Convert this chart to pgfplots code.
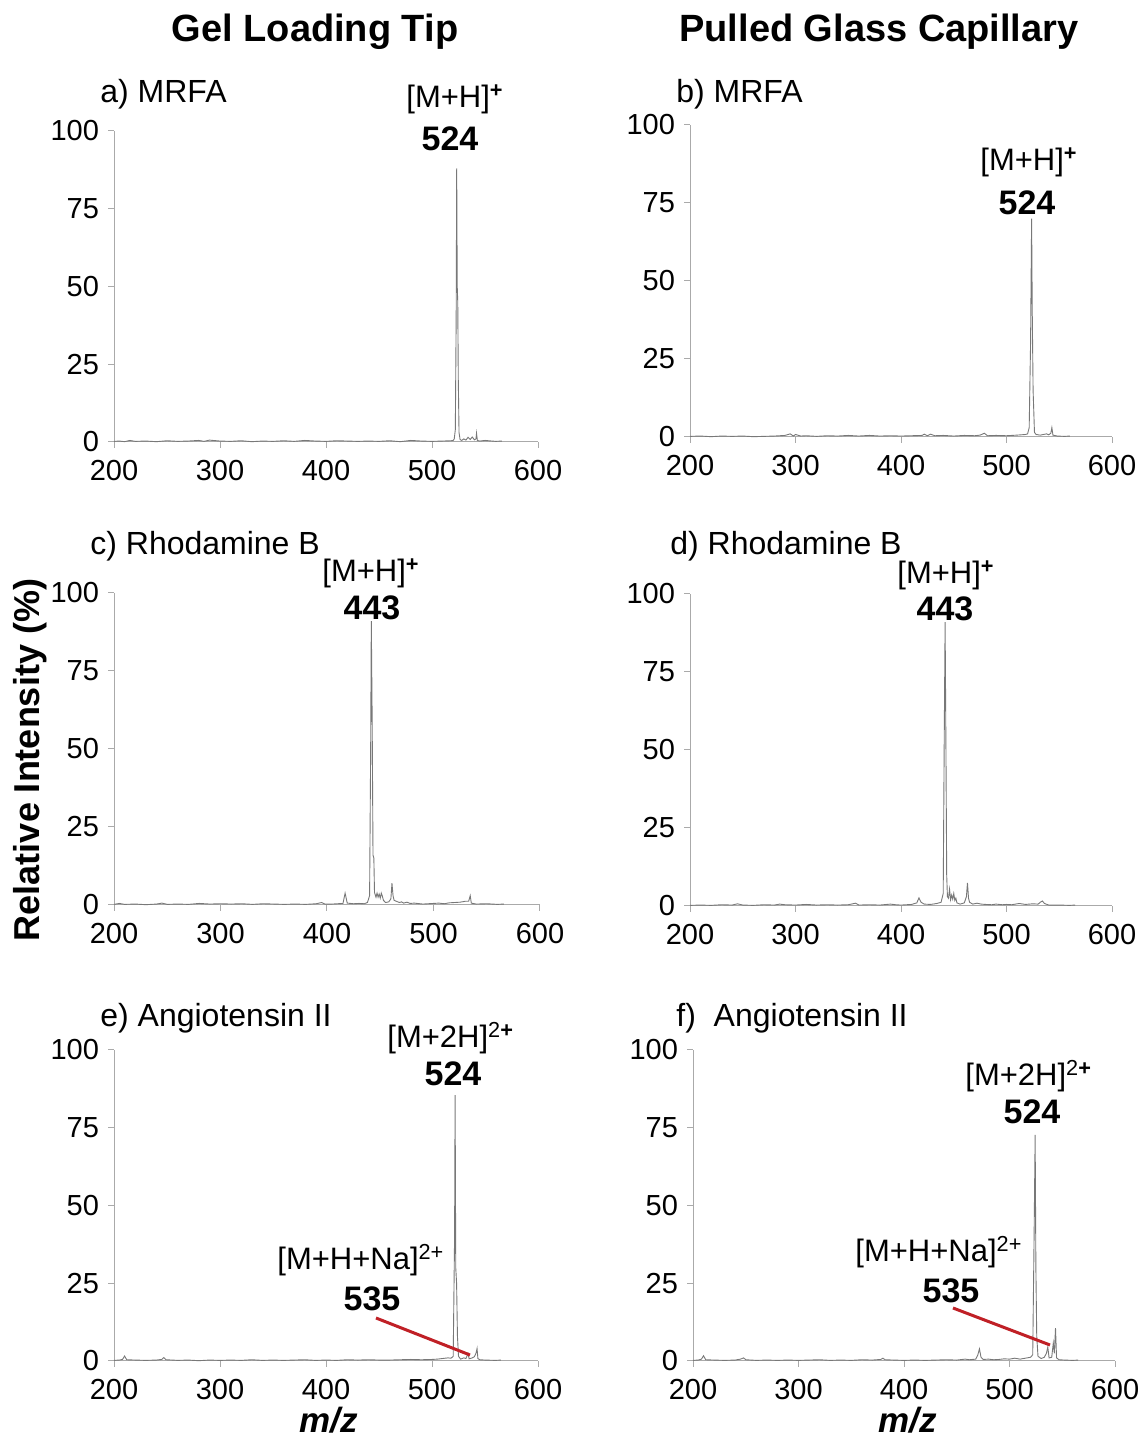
\documentclass[border=0pt]{standalone}
\usepackage{fontspec}
\setmainfont{Liberation Sans}
\usepackage{pgfplots}
\pgfplotsset{compat=1.18}
\definecolor{spec}{RGB}{120,120,120}
\definecolor{axgray}{RGB}{170,170,170}
\definecolor{redline}{RGB}{192,32,38}
\newcommand{\fs}[1]{\fontsize{#1}{#1}\selectfont}
\pgfplotsset{
  specax/.style={
    scale only axis, anchor=south west, clip=false,
    axis x line=bottom, axis y line=left,
    axis line style={axgray,-,line width=0.5pt},
    xmin=200, xmax=600, ymin=0, ymax=100,
    xtick={200,300,400,500,600}, ytick={0,25,50,75,100},
    tick align=outside, major tick length=3pt,
    tick style={axgray,line width=0.5pt},
    /pgf/number format/assume math mode=true,
    tick label style={font=\fs{14.5}, text=black},
    xticklabel style={yshift=-2.5pt},
    yticklabel style={xshift=-1pt},
  },
  specline/.style={spec, line width=0.45pt, no markers},
}
\begin{document}
\begin{tikzpicture}
\useasboundingbox (0,0) rectangle (571.5pt,719.5pt);
% ---------- a ----------
\begin{axis}[specax, at={(57pt,498.5pt)}, width=212pt, height=155.5pt]
\addplot[specline] coordinates {(200,0.2)(205,0.3)(210,0.1)(215,0.5)(220,0.2)(230,0.3)(240,0.1)(250,0.4)(260,0.2)(270,0.3)(280,0.5)(285,0.2)(290,0.6)(300,0.3)(310,0.2)(320,0.4)(330,0.1)(340,0.3)(350,0.2)(360,0.4)(370,0.2)(380,0.5)(390,0.3)(400,0.2)(410,0.4)(420,0.3)(430,0.2)(440,0.3)(450,0.2)(460,0.4)(470,0.1)(480,0.5)(490,0.3)(500,0.2)(510,0.3)(518,0.4)(520,0.5)(521,1)(522,4)(522.8,40)(523.3,88)(523.8,50)(524.3,45)(524.8,20)(525.5,3)(526.5,0.8)(528,0.5)(530,1)(532,0.6)(534,1.5)(536,0.8)(538,1.6)(540,0.7)(541.5,1)(542,2.8)(542.8,0.5)(545,0.3)(550,0.5)(560,0.2)(566,0.3)};
\end{axis}
% ---------- b ----------
\begin{axis}[specax, at={(345pt,501pt)}, width=211pt, height=156pt]
\addplot[specline] coordinates {(200,0.2)(210,0.3)(220,0.1)(230,0.3)(240,0.2)(250,0.3)(260,0.1)(270,0.2)(280,0.3)(290,0.5)(295,1.0)(298,0.3)(300,0.8)(305,0.3)(310,0.4)(320,0.2)(330,0.4)(340,0.3)(350,0.5)(360,0.3)(370,0.5)(380,0.3)(390,0.4)(400,0.3)(410,0.4)(420,0.5)(422,0.9)(425,0.4)(428,0.9)(432,0.4)(440,0.5)(450,0.3)(460,0.5)(470,0.4)(475,0.6)(479,1.2)(482,0.4)(490,0.5)(500,0.4)(510,0.6)(518,0.8)(520,1.0)(521.5,3)(522.8,30)(523.8,70)(524.4,40)(525.2,15)(526.5,1.5)(528,0.8)(532,0.6)(535,0.8)(538,1.0)(540,0.7)(542,1.2)(543,3.0)(544,0.6)(548,0.3)(555,0.2)(560,0.3)};
\end{axis}
% ---------- c ----------
\begin{axis}[specax, at={(57pt,267pt)}, width=213pt, height=156pt]
\addplot[specline] coordinates {(200,0.2)(205,0.5)(210,0.2)(220,0.3)(230,0.1)(240,0.3)(245,0.6)(250,0.2)(260,0.3)(270,0.2)(280,0.5)(290,0.3)(300,0.4)(310,0.3)(320,0.4)(330,0.2)(340,0.4)(350,0.3)(360,0.2)(370,0.3)(380,0.2)(390,0.4)(395,0.8)(398,0.3)(405,0.3)(410,0.4)(415,0.5)(417,3.8)(419,0.6)(425,0.4)(430,0.5)(435,0.4)(438,0.8)(440,3)(441,50)(441.6,91)(442.4,60)(443.2,16)(444,15)(444.6,4)(446,2.5)(447,3.8)(448,2.5)(449,3.5)(450,2.2)(451,3.8)(452,2.8)(453,1.5)(455,0.8)(458,1.0)(460,2)(461,7)(462,3)(463,1.5)(465,1.2)(468,0.8)(470,1.0)(472,0.6)(475,0.9)(478,0.5)(482,0.6)(490,0.3)(495,0.4)(500,0.5)(505,0.6)(510,0.4)(515,0.7)(520,0.8)(525,0.9)(530,1.2)(533,1.2)(534.5,3)(535.5,0.6)(540,0.3)(550,0.4)(560,0.2)(566,0.3)};
\end{axis}
% ---------- d ----------
\begin{axis}[specax, at={(345pt,266.5pt)}, width=211pt, height=156pt]
\addplot[specline] coordinates {(200,0.2)(210,0.3)(220,0.2)(230,0.4)(240,0.3)(245,0.7)(250,0.3)(260,0.2)(270,0.4)(280,0.3)(285,0.6)(290,0.4)(300,0.3)(310,0.5)(320,0.3)(330,0.4)(340,0.3)(350,0.4)(357,0.9)(360,0.3)(370,0.4)(380,0.3)(390,0.6)(395,0.4)(400,0.3)(410,0.5)(415,1.0)(417,2.6)(419,1.2)(422,0.6)(428,0.5)(434,0.8)(438,1.2)(440,4)(441,55)(441.8,91)(442.6,50)(443.3,10)(444,3)(445,2.5)(446,5.4)(447,2)(448,3.5)(449,2.2)(450,4)(451,1.8)(452,2.5)(453,1)(456,0.6)(460,1)(462,3)(463,7.4)(464,2.5)(465,1.2)(468,0.6)(472,0.9)(476,0.6)(480,0.5)(486,0.4)(490,0.6)(496,0.4)(500,0.5)(505,0.4)(512,0.8)(518,0.5)(525,0.7)(530,0.6)(532,1.2)(534,1.6)(536,0.8)(540,0.3)(550,0.3)(560,0.2)(565,0.3)};
\end{axis}
% ---------- e ----------
\begin{axis}[specax, at={(57pt,39pt)}, width=212pt, height=155.5pt]
\addplot[specline] coordinates {(200,0.2)(205,0.3)(208,0.5)(210,1.6)(212,0.4)(220,0.3)(230,0.2)(240,0.3)(245,0.5)(247,1.1)(249,0.4)(255,0.3)(260,0.2)(270,0.3)(280,0.1)(290,0.3)(300,0.2)(310,0.3)(320,0.2)(330,0.4)(340,0.2)(350,0.3)(360,0.2)(370,0.3)(380,0.4)(390,0.2)(400,0.3)(410,0.2)(420,0.4)(430,0.3)(440,0.4)(450,0.3)(460,0.3)(470,0.4)(480,0.5)(490,0.4)(500,0.5)(505,0.6)(510,0.8)(515,1.0)(518,0.9)(520,1.5)(521.3,40)(521.8,85.5)(522.4,30)(523.2,25)(524,8)(525,1.5)(527,0.6)(530,1.0)(532,0.8)(534,2.4)(535,0.7)(538,1.0)(540,1.4)(541.5,2.5)(542.5,4)(543.3,0.8)(545,0.4)(550,0.3)(560,0.2)(565,0.3)};
\end{axis}
% ---------- f ----------
\begin{axis}[specax, at={(346.5pt,39pt)}, width=211pt, height=155.5pt]
\addplot[specline] coordinates {(200,0.2)(205,0.3)(208,0.6)(210,1.7)(212,0.4)(220,0.3)(230,0.2)(240,0.3)(245,0.6)(248,1.0)(250,0.4)(260,0.2)(270,0.3)(280,0.2)(290,0.3)(300,0.2)(310,0.3)(320,0.4)(330,0.2)(340,0.3)(350,0.2)(360,0.4)(370,0.3)(378,0.5)(380,0.9)(382,0.4)(390,0.3)(400,0.2)(410,0.3)(420,0.2)(430,0.3)(440,0.4)(450,0.3)(458,0.6)(462,0.4)(468,0.6)(470,2)(471.5,3.9)(473,1.2)(475,0.5)(480,0.6)(485,0.4)(490,0.5)(495,0.7)(500,0.6)(505,0.9)(510,0.6)(515,0.9)(520,1.2)(522,2)(523.3,40)(524.3,72.7)(525,30)(525.8,8)(527,1.5)(530,0.8)(533,1.2)(535,2.5)(536.3,4.5)(537.5,1.0)(540,1.2)(541.5,5.8)(542.5,2.5)(543.6,10.6)(544.6,1.0)(547,0.4)(552,0.3)(560,0.2)(565,0.3)};
\end{axis}
% ---------- annotations (pixel coordinates, y downward) ----------
\begin{scope}[x=0.5pt, y=-0.5pt, yshift=719.5pt]
\node[font=\fs{19}\bfseries] at (315,32) {Gel Loading Tip};
\node[font=\fs{19}\bfseries] at (879,32) {Pulled Glass Capillary};
\node[font=\fs{18}\bfseries, rotate=90] at (30,760) {Relative Intensity (\%)};
\node[font=\fs{17.5}\bfseries\itshape, anchor=base, inner sep=0pt] at (329,1433) {m/z};
\node[font=\fs{17.5}\bfseries\itshape, anchor=base, inner sep=0pt] at (908,1433) {m/z};
% panel labels
\node[font=\fs{16}, anchor=base west, inner sep=0pt] at (100,103) {a) MRFA};
\node[font=\fs{16}, anchor=base west, inner sep=0pt] at (676,103) {b) MRFA};
\node[font=\fs{16}, anchor=base west, inner sep=0pt] at (90,555) {c) Rhodamine B};
\node[font=\fs{16}, anchor=base west, inner sep=0pt] at (670,555) {d) Rhodamine B};
\node[font=\fs{16}, anchor=base west, inner sep=0pt] at (100,1027) {e) Angiotensin II};
\node[font=\fs{16}, anchor=base west, inner sep=0pt] at (676,1027) {f)\ \ Angiotensin II};
% peak labels
\node[font=\fs{15.5}, anchor=base west, inner sep=0pt] at (406,108) {[M+H]\textsuperscript{\textbf{+}}};
\node[font=\fs{17}\bfseries, anchor=base, inner sep=0pt] at (450,151) {524};
\node[font=\fs{15.5}, anchor=base west, inner sep=0pt] at (980,171) {[M+H]\textsuperscript{\textbf{+}}};
\node[font=\fs{17}\bfseries, anchor=base, inner sep=0pt] at (1027,215) {524};
\node[font=\fs{15.5}, anchor=base west, inner sep=0pt] at (322,582) {[M+H]\textsuperscript{\textbf{+}}};
\node[font=\fs{17}\bfseries, anchor=base, inner sep=0pt] at (372,620) {443};
\node[font=\fs{15.5}, anchor=base west, inner sep=0pt] at (897,584) {[M+H]\textsuperscript{\textbf{+}}};
\node[font=\fs{17}\bfseries, anchor=base, inner sep=0pt] at (945,621) {443};
\node[font=\fs{15.5}, anchor=base west, inner sep=0pt] at (387,1048) {[M+2H]\textsuperscript{2\textbf{+}}};
\node[font=\fs{17}\bfseries, anchor=base, inner sep=0pt] at (453,1086) {524};
\node[font=\fs{15.5}, anchor=base west, inner sep=0pt] at (277,1270) {[M+H+Na]\textsuperscript{2+}};
\node[font=\fs{17}\bfseries, anchor=base, inner sep=0pt] at (372,1311) {535};
\node[font=\fs{15.5}, anchor=base west, inner sep=0pt] at (965,1086) {[M+2H]\textsuperscript{2\textbf{+}}};
\node[font=\fs{17}\bfseries, anchor=base, inner sep=0pt] at (1032,1124) {524};
\node[font=\fs{15.5}, anchor=base west, inner sep=0pt] at (855,1262) {[M+H+Na]\textsuperscript{2+}};
\node[font=\fs{17}\bfseries, anchor=base, inner sep=0pt] at (951,1303) {535};
\draw[redline, line width=1.5pt] (376,1318) -- (470,1355);
\draw[redline, line width=1.5pt] (953,1308) -- (1050,1345);
\end{scope}
\end{tikzpicture}
\end{document}
